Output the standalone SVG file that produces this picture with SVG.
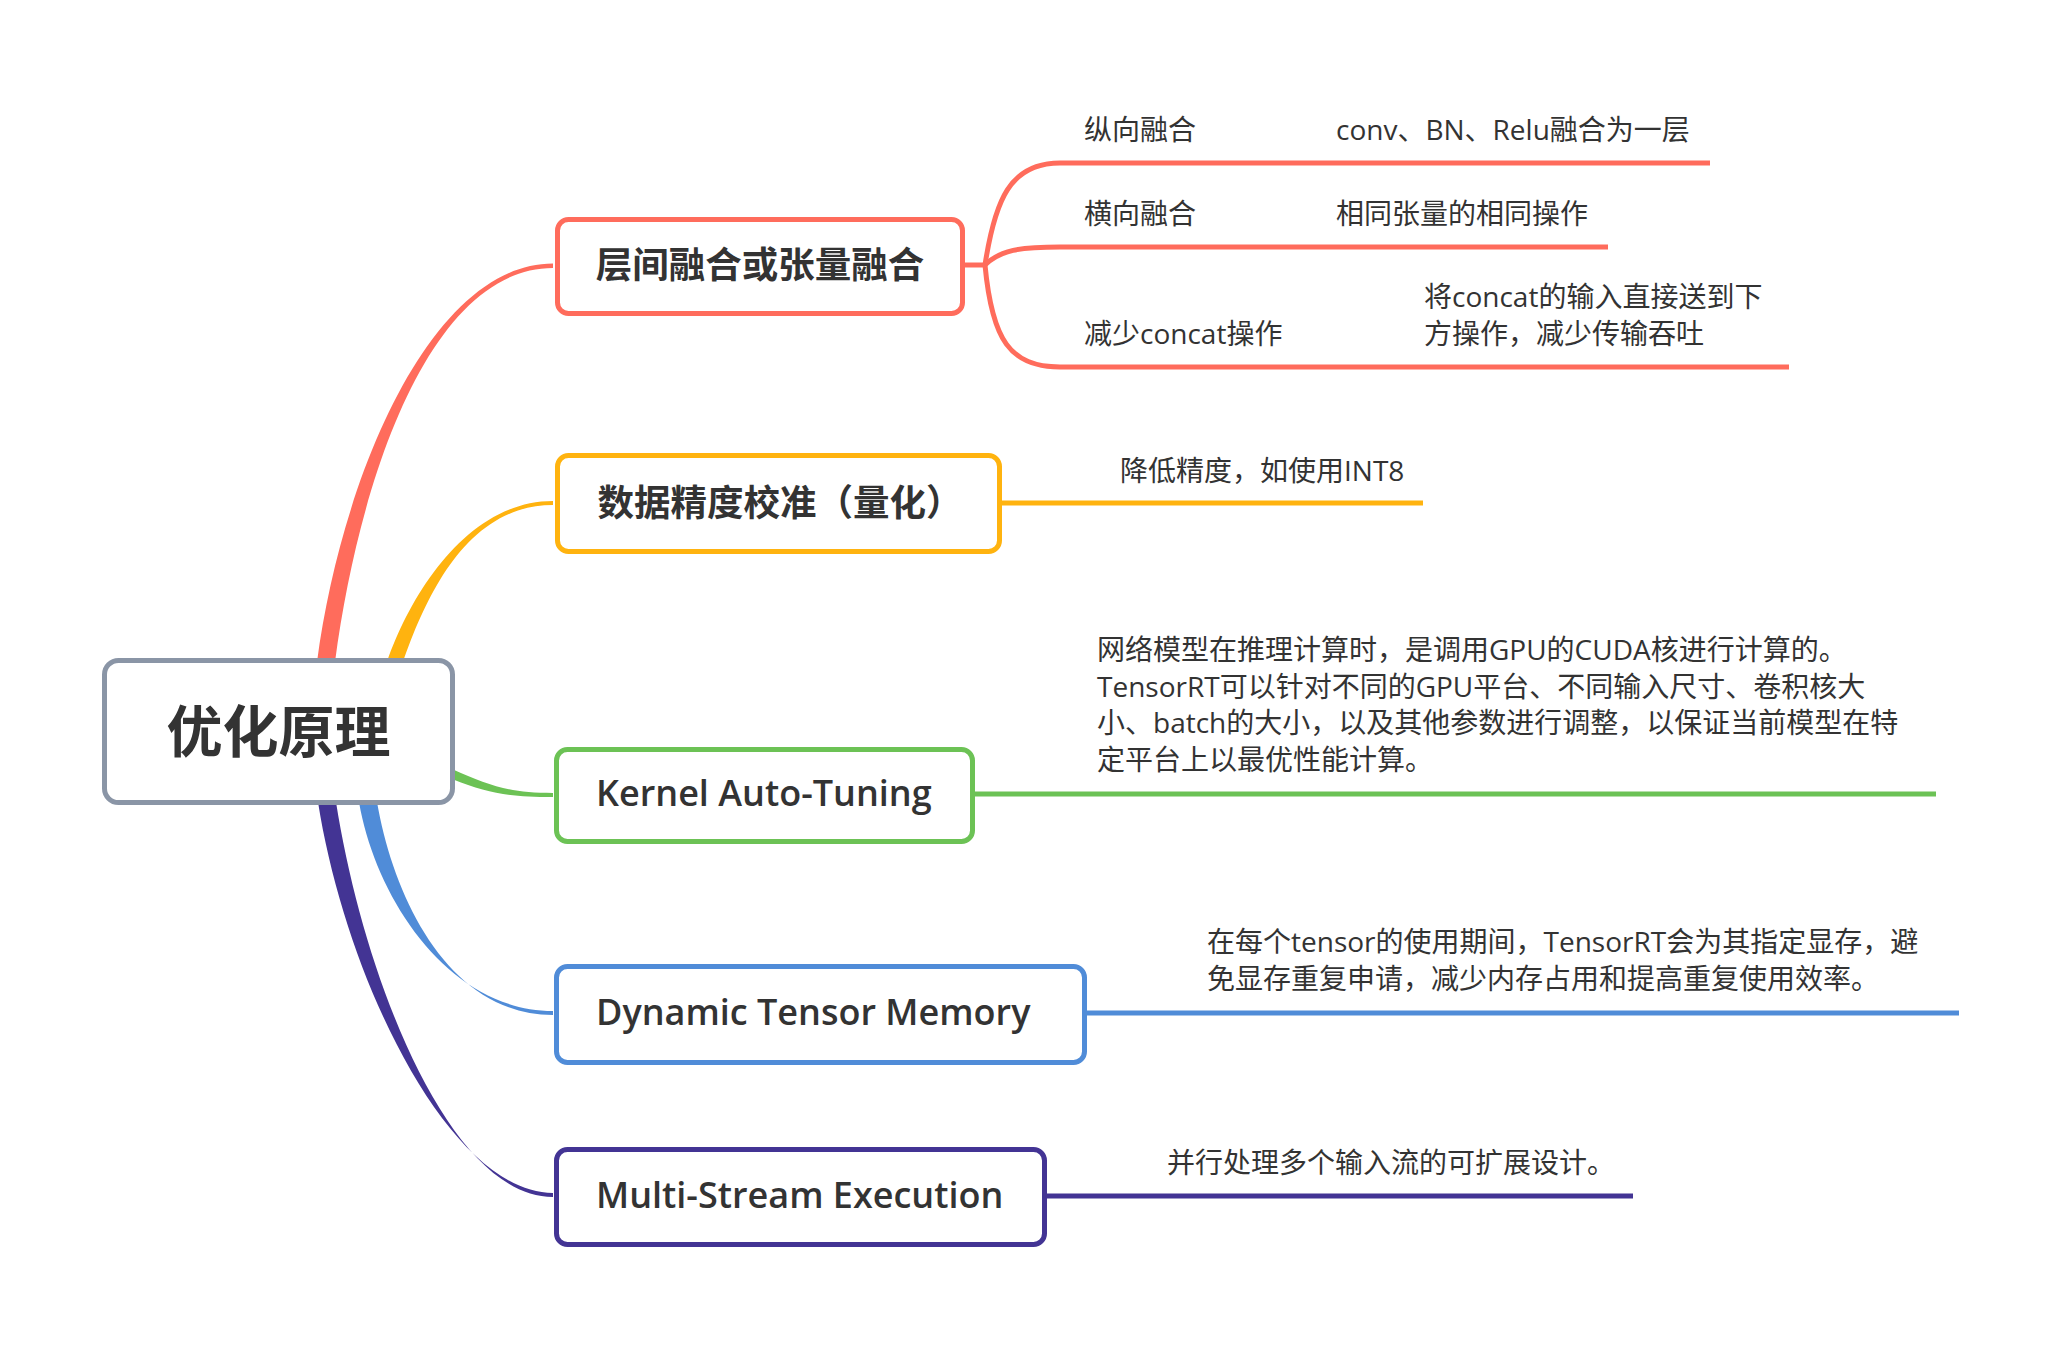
<svg xmlns="http://www.w3.org/2000/svg" width="2060" height="1346" viewBox="0 0 2060 1346">
<style>
.box{fill:#ffffff;stroke-width:5}
.nt{font-family:"Open Sans","Noto Sans CJK SC",sans-serif;font-weight:600;font-size:36px;fill:#333333}
.nc{font-family:"Noto Sans CJK SC","Open Sans",sans-serif;font-weight:700;font-size:36.5px;fill:#333333;text-anchor:middle}
.ct{font-family:"Noto Sans CJK SC","Open Sans",sans-serif;font-weight:700;font-size:56px;fill:#333333;text-anchor:middle}
.st{font-family:"Open Sans","Noto Sans CJK SC",sans-serif;font-size:28px;fill:#333333}
.ln{fill:none;stroke-width:5;stroke-linecap:butt}
.red{stroke:#FF6C5C}
.yel{stroke:#FFB30F}
.grn{stroke:#6CC255}
.blu{stroke:#508CD8}
.ind{stroke:#433494}
</style>
<rect width="2060" height="1346" fill="#ffffff"/>
<g id="connectors">
  <path d="M317,662 C341,480 430,263.5 553,263.5 L553,268 C430,268 359,480 335,662 Z" fill="#FF6C5C"/>
  <path d="M387,662 C412,590 470,501 553,501 L553,505 C470,505 428,590 403,662 Z" fill="#FFB30F"/>
  <path d="M452,769 C490,786 510,793 553,793 L553,797 C510,797 490,794 452,779 Z" fill="#6CC255"/>
  <path d="M359,802 C376,900 450,1011 553,1011 L553,1015 C450,1015 394,900 377,802 Z" fill="#508CD8"/>
  <path d="M318,802 C346,980 450,1193 553,1193 L553,1197 C450,1197 364,980 336,802 Z" fill="#433494"/>
  <path class="ln red" d="M963,265 H985"/>
  <path class="ln red" d="M985,265 C995,200 1010,163 1060,163 H1710"/>
  <path class="ln red" d="M985,265 C1000,250 1020,247 1060,247 H1608"/>
  <path class="ln red" d="M985,265 C992,340 1010,367 1060,367 H1789"/>
  <path class="ln yel" d="M1000,503 H1423"/>
  <path class="ln grn" d="M973,794 H1936"/>
  <path class="ln blu" d="M1085,1013 H1959"/>
  <path class="ln ind" d="M1045,1196 H1633"/>
</g>
<g id="root">
  <rect class="box" x="104.5" y="660.5" width="348" height="142" rx="14" stroke="#8A95A6"/>
  <text class="ct" x="278.5" y="752">优化原理</text>
</g>
<g id="n1">
  <rect class="box red" x="557.5" y="219.5" width="405" height="94" rx="11"/>
  <text class="nc" x="760" y="278">层间融合或张量融合</text>
</g>
<g id="n1a">
  <text class="st" x="1084" y="140">纵向融合</text>
  <text class="st" x="1336" y="140">conv、BN、Relu融合为一层</text>
</g>
<g id="n1b">
  <text class="st" x="1084" y="224">横向融合</text>
  <text class="st" x="1336" y="224">相同张量的相同操作</text>
</g>
<g id="n1c">
  <text class="st" x="1084" y="344">减少concat操作</text>
  <text class="st" x="1424" y="307">将concat的输入直接送到下</text>
  <text class="st" x="1424" y="344">方操作，减少传输吞吐</text>
</g>
<g id="n2">
  <rect class="box yel" x="557.5" y="455.5" width="442" height="96" rx="11"/>
  <text class="nc" x="780" y="516">数据精度校准（量化）</text>
  <text class="st" x="1120" y="481">降低精度，如使用INT8</text>
</g>
<g id="n3">
  <rect class="box grn" x="556.5" y="749.5" width="416" height="92" rx="11"/>
  <text class="nt" x="596" y="806">Kernel Auto-Tuning</text>
  <text class="st" x="1097" y="660">网络模型在推理计算时，是调用GPU的CUDA核进行计算的。</text>
  <text class="st" x="1097" y="697">TensorRT可以针对不同的GPU平台、不同输入尺寸、卷积核大</text>
  <text class="st" x="1097" y="733">小、batch的大小，以及其他参数进行调整，以保证当前模型在特</text>
  <text class="st" x="1097" y="770">定平台上以最优性能计算。</text>
</g>
<g id="n4">
  <rect class="box blu" x="556.5" y="966.5" width="528" height="96" rx="11"/>
  <text class="nt" x="596" y="1025">Dynamic Tensor Memory</text>
  <text class="st" x="1207" y="952">在每个tensor的使用期间，TensorRT会为其指定显存，避</text>
  <text class="st" x="1207" y="989">免显存重复申请，减少内存占用和提高重复使用效率。</text>
</g>
<g id="n5">
  <rect class="box ind" x="556.5" y="1149.5" width="488" height="95" rx="11"/>
  <text class="nt" x="596" y="1208">Multi-Stream Execution</text>
  <text class="st" x="1167" y="1173">并行处理多个输入流的可扩展设计。</text>
</g>
</svg>
